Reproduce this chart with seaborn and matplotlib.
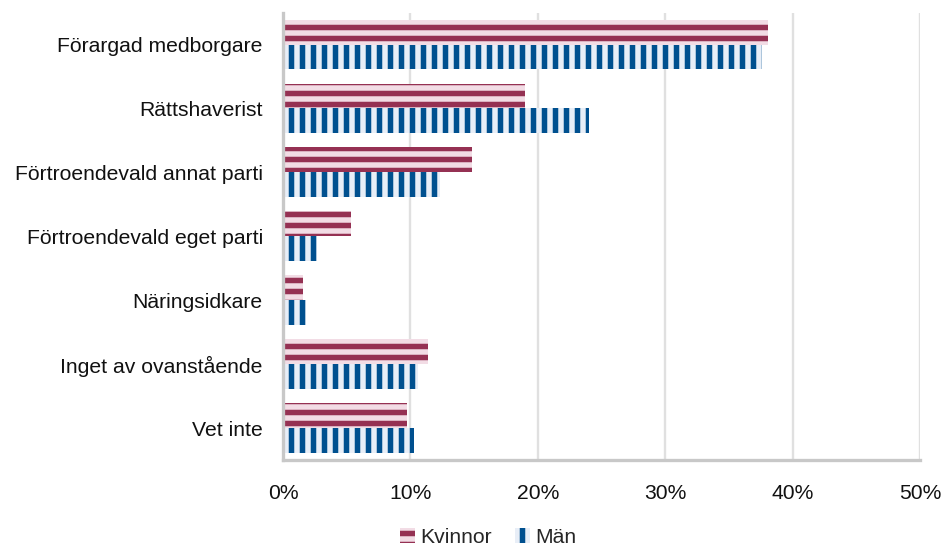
import matplotlib
matplotlib.use("Agg")
import matplotlib.pyplot as plt
import seaborn as sns
import pandas as pd
from matplotlib.patches import Patch
from matplotlib.ticker import FuncFormatter, FixedLocator

categories = ["Förargad medborgare", "Rättshaverist", "Förtroendevald annat parti",
              "Förtroendevald eget parti", "Näringsidkare", "Inget av ovanstående", "Vet inte"]
kvinnor = [38.1, 19.0, 14.8, 5.3, 1.6, 11.4, 9.7]
man = [37.6, 24.0, 12.3, 2.7, 1.8, 10.6, 10.3]
series = ["Kvinnor", "Män"]
xticks = [0, 10, 20, 30, 40, 50]

rows = []
for c, k, m in zip(categories, kvinnor, man):
    rows.append({"cat": c, "serie": series[0], "val": k})
    rows.append({"cat": c, "serie": series[1], "val": m})
df = pd.DataFrame(rows)

sns.set_style("white")
plt.rcParams['font.family'] = ['Liberation Sans', 'DejaVu Sans']
plt.rcParams['hatch.linewidth'] = 3.0

DPI = 132
FS = 11.5
fig = plt.figure(figsize=(943 / DPI, 547 / DPI), dpi=DPI)
ax = fig.add_axes([283 / 943, (547 - 460) / 547, (920 - 283) / 943, (460 - 12.6) / 547])

face = {"Kvinnor": "#f2dce5", "Män": "#e8eef7"}
hatchc = {"Kvinnor": "#953153", "Män": "#00508f"}
hatches = {"Kvinnor": "--", "Män": "||"}

sns.barplot(data=df, y="cat", x="val", hue="serie", orient="h", order=categories,
            hue_order=series, palette=face, width=0.78, ax=ax, legend=False,
            saturation=1)

for cont, s in zip(ax.containers, series):
    for p in cont:
        p.set_hatch(hatches[s])
        p.set_edgecolor(hatchc[s])
        p.set_linewidth(0)

ax.set_xlim(0, 50)
ax.set_ylim(len(categories) - 0.5, -0.5)
ax.set_xlabel("")
ax.set_ylabel("")
ax.xaxis.set_major_locator(FixedLocator(xticks))
ax.xaxis.set_major_formatter(FuncFormatter(lambda v, p: f"{v:.0f}%"))
ax.grid(axis="x", color="#e0e0e0", linewidth=1.3)
ax.set_axisbelow(True)

for side in ["top", "right"]:
    ax.spines[side].set_visible(False)
for side in ["left", "bottom"]:
    ax.spines[side].set_color("#c8c8c8")
    ax.spines[side].set_linewidth(1.8)

ax.tick_params(axis="y", which="major", length=0, pad=11, labelsize=FS, labelcolor="#111111")
ax.set_yticks(range(len(categories)))
ax.set_yticks([i - 0.5 for i in range(len(categories) + 1)], minor=True)
ax.tick_params(axis="y", which="minor", length=4.2, width=1.8, color="#c8c8c8", direction="out")
ax.tick_params(axis="x", which="major", length=3, width=1.3, color="#c8c8c8", pad=10,
               labelsize=FS, labelcolor="#111111")

handles = [Patch(facecolor=face[s], edgecolor=hatchc[s], hatch=hatches[s], linewidth=0, label=s)
           for s in series]
fig.legend(handles=handles, loc="lower center", bbox_to_anchor=(0.518, -0.035), ncol=2,
           frameon=False, fontsize=FS, handlelength=0.7, handleheight=0.7,
           handletextpad=0.25, columnspacing=1.1)

fig.savefig("out.png", dpi=DPI)
